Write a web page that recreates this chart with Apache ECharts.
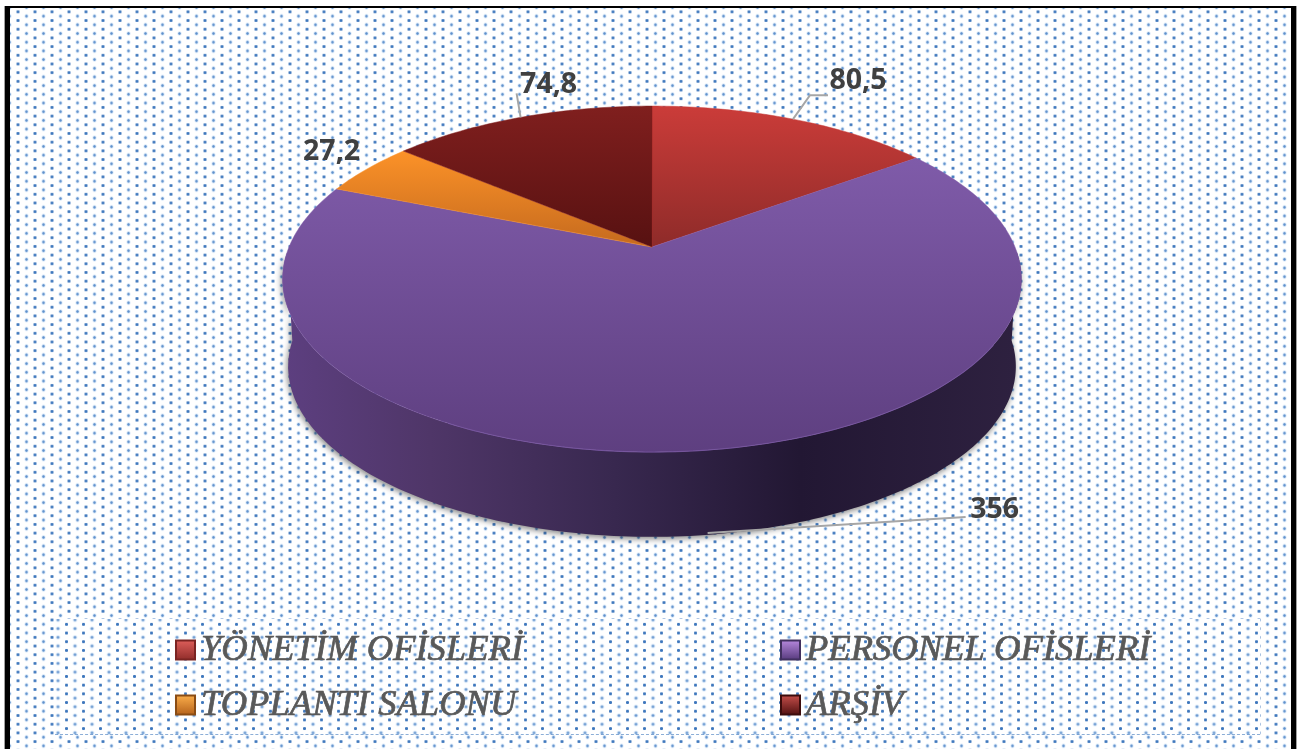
<!DOCTYPE html>
<html>
<head>
<meta charset="utf-8">
<title>Alan dagilimi</title>
<script src="https://cdn.jsdelivr.net/npm/echarts@6/dist/echarts.min.js"></script>
<style>
  html, body { margin: 0; padding: 0; background: #fff; }
  #page { position: relative; width: 1298px; height: 749px; overflow: hidden; background: #fff; }
  .dots {
    position: absolute;
    background-image:
      radial-gradient(circle at 50% 50%, #3f78bd 0, #3f78bd 1.2px, rgba(63,120,189,0) 1.9px),
      radial-gradient(circle at 50% 50%, #5f90cc 0, #6f9cd2 0.9px, rgba(170,205,240,.4) 1.7px, rgba(170,205,240,0) 2.6px);
    background-size: 17px 8.7px, 17px 8.7px;
  }
  #field { left: 10px; top: 8px; width: 1281px; height: 741px; background-position: -0.5px -0.5px, 8px 3.8px; }
  #legendBox { left: 55px; top: 619px; width: 1205px; height: 116px; background-color: #fff; background-position: 3px 1px, 11.5px 5.3px; border-bottom: 1px dashed rgba(63,120,189,.6); box-sizing: border-box; }
  .edge { position: absolute; }
  #chart { position: absolute; left: 0; top: 0; width: 1298px; height: 749px; }
</style>
</head>
<body>
<div id="page">
  <div id="field" class="dots"></div>
  <div id="legendBox" class="dots"></div>
  <div class="edge" style="left:4px;top:6px;width:1px;height:743px;background:#a0a0a0"></div>
  <div class="edge" style="left:5px;top:6px;width:5px;height:743px;background:#000"></div>
  <div class="edge" style="left:5px;top:6px;width:1291px;height:2px;background:#000"></div>
  <div class="edge" style="left:1291px;top:6px;width:5px;height:743px;background:#000"></div>
  <div class="edge" style="left:1296px;top:6px;width:1px;height:743px;background:#a0a0a0"></div>
  <div id="chart"></div>
</div>
<script>
// values
const sliceNames = ['YÖNETİM OFİSLERİ', 'PERSONEL OFİSLERİ', 'TOPLANTI SALONU', 'ARŞİV'];
const sliceValues = [80.5, 356, 27.2, 74.8];

// top colour, bottom colour of each slice
const topColors = [['#cb3c39', '#8e2b29'], ['#7f5ba9', '#5e3f80'], ['#fc9228', '#c56a1e'], ['#801f1e', '#571111']];
const legendColors = [['#e0605c', '#8e2b29'], ['#b98ae0', '#54387a'], ['#fdb04c', '#b3601a'], ['#c8504c', '#4e0f0f']];
const legendBorders = ['#7a2422', '#41305f', '#8a4c14', '#3c0c0c'];

// label place relative to the slice's rim point, leader bend points relative to the same point
const labelOffsets = [[65, -38], [287, -23], [-36, -17], [28, -33]];
const leaderBends = [[[17, -24], [35, -24]], [[258, -16]], [], [[-4, -24]]];

// perspective disc
const cx = 652, cy = 247, rx = 363, ry = 167, persp = 0.185;
const depthY = 88, bottomScale = 0.985;
const total = sliceValues.reduce((a, b) => a + b, 0);

function rim(deg, scale, dy) {
  const t = deg * Math.PI / 180;
  const w = 1 + persp * Math.cos(t);
  return [cx + scale * rx * Math.sin(t) / w, cy + dy - scale * ry * Math.cos(t) / w];
}
function arc(from, to, scale, dy) {
  const pts = [];
  const n = Math.max(2, Math.ceil(Math.abs(to - from)));
  for (let i = 0; i <= n; i++) pts.push(rim(from + (to - from) * i / n, scale, dy));
  return pts;
}
function vgrad(c) {
  return { type: 'linear', x: 0, y: 0, x2: 0, y2: 1, colorStops: [{ offset: 0, color: c[0] }, { offset: 1, color: c[1] }] };
}
const wallFill = {
  type: 'linear', x: 0, y: 0, x2: 1, y2: 0,
  colorStops: [
    { offset: 0, color: '#5d3f80' },
    { offset: 0.2, color: '#4f3668' },
    { offset: 0.45, color: '#38284f' },
    { offset: 0.7, color: '#221733' },
    { offset: 1, color: '#2e2140' }
  ]
};

function renderSlice(index) {
  return function (params, api) {
    const value = api.value(0);
    const before = sliceValues.slice(0, index).reduce((a, b) => a + b, 0);
    const start = before / total * 360;
    const end = (before + value) / total * 360;
    const mid = (start + end) / 2;
    const children = [];

    // side wall, only the front part of the disc shows it
    const a = Math.max(start, 92), b = Math.min(end, 268);
    if (a < b) {
      const wall = arc(a, b, 1, 0).concat(arc(b, a, bottomScale, depthY));
      children.push({
        type: 'polygon',
        shape: { points: wall },
        style: { fill: wallFill, shadowBlur: 6, shadowColor: 'rgba(0,0,0,.5)', shadowOffsetX: -1, shadowOffsetY: 2 }
      });
      children.push({
        type: 'polyline',
        shape: { points: arc(a + 30, b - 60, 1, 0) },
        style: { fill: 'none', stroke: '#7d5ba6', lineWidth: 1.2, opacity: 0.8 }
      });
    }

    // top face
    children.push({
      type: 'polygon',
      shape: { points: [[cx, cy]].concat(arc(start, end, 1, 0)) },
      style: { fill: vgrad(topColors[index]), stroke: topColors[index][0], lineWidth: 0.5 }
    });

    // leader and value
    const onFront = mid > 92 && mid < 268;
    const anchor = rim(mid, 1, onFront ? depthY - 5 : 0);
    const off = labelOffsets[index];
    const bends = leaderBends[index];
    if (bends.length) {
      children.push({
        type: 'polyline',
        shape: { points: [anchor].concat(bends.map(p => [anchor[0] + p[0], anchor[1] + p[1]])) },
        style: { fill: 'none', stroke: '#a6a6a6', lineWidth: 2 },
        z2: 5
      });
    }
    children.push({
      type: 'text',
      x: anchor[0] + off[0],
      y: anchor[1] + off[1],
      style: {
        text: String(value).replace('.', ','),
        fill: '#404040',
        font: 'bold 28.5px "Open Sans", sans-serif',
        align: 'center',
        verticalAlign: 'middle'
      },
      z2: 6
    });
    return { type: 'group', children: children };
  };
}

const series = sliceNames.map((name, i) => ({
  type: 'custom',
  name: name,
  coordinateSystem: 'none',
  silent: true,
  animation: false,
  itemStyle: { color: vgrad(legendColors[i]), borderColor: legendBorders[i], borderWidth: 1 },
  data: [[sliceValues[i]]],
  renderItem: renderSlice(i)
}));

function legendColumn(left, names) {
  return {
    left: left,
    top: 630,
    orient: 'vertical',
    icon: 'rect',
    itemWidth: 19,
    itemHeight: 19,
    itemGap: 15,
    padding: 0,
    selectedMode: false,
    data: names,
    textStyle: {
      fontFamily: '"Liberation Serif", serif',
      fontStyle: 'italic',
      fontSize: 36.6,
      color: '#595959',
      textBorderColor: '#595959',
      textBorderWidth: 0.7,
      padding: [0, 0, 0, 1],
      height: 40,
      lineHeight: 40
    }
  };
}

const chart = echarts.init(document.getElementById('chart'), null, { renderer: 'canvas' });
chart.setOption({
  backgroundColor: 'transparent',
  animation: false,
  legend: [
    legendColumn(175, [sliceNames[0], sliceNames[2]]),
    legendColumn(780, [sliceNames[1], sliceNames[3]])
  ],
  series: series
});
</script>
</body>
</html>
